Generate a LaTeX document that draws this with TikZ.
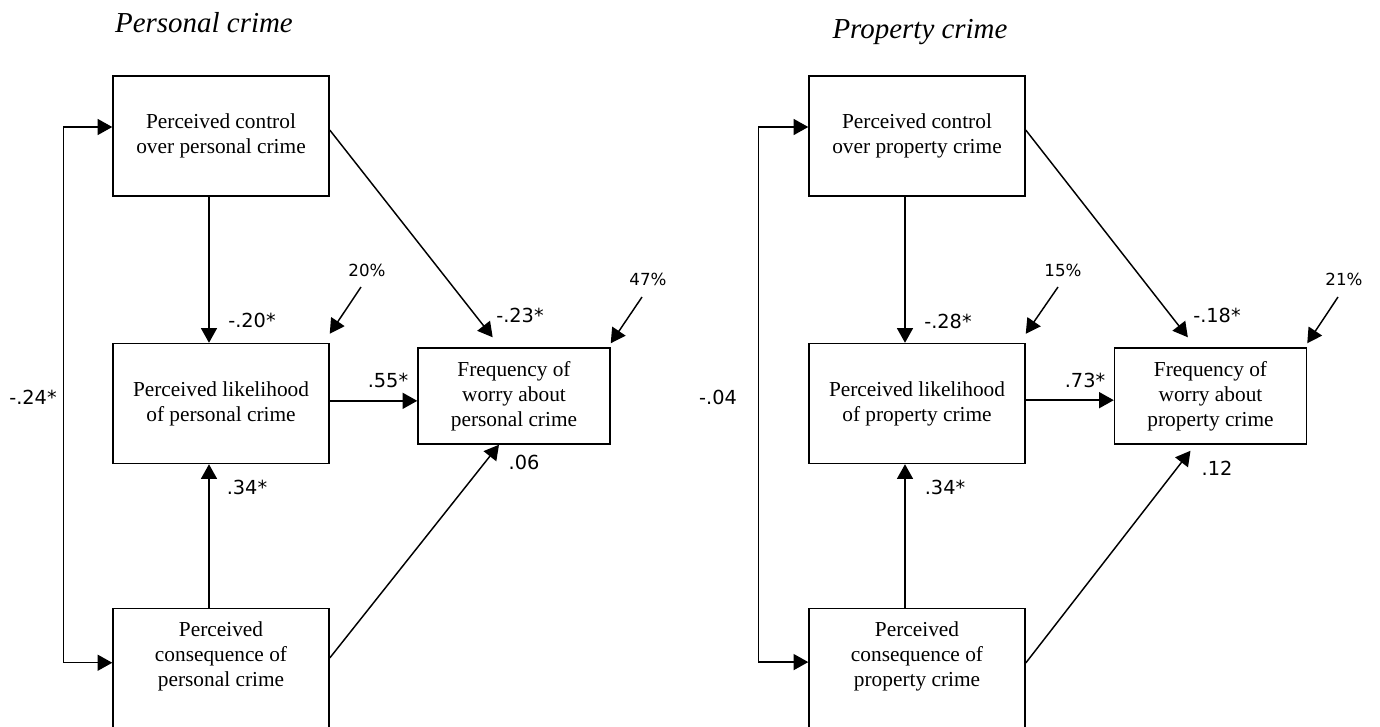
\documentclass[tikz,border=0pt]{standalone}
\usepackage{fontspec}
\setmainfont{Liberation Serif}
\newfontfamily\labfont{DejaVu Sans}
\usetikzlibrary{arrows.meta}
\begin{document}
\begin{tikzpicture}[x=0.75pt,y=-0.75pt,
  box/.style={draw,line width=1.1pt,minimum width=162pt,minimum height=90pt,inner sep=0pt,align=center,font=\fontsize{16}{18.75}\selectfont},
  outbox/.style={box,minimum width=144pt,minimum height=72pt},
  consbox/.style={draw,line width=1.1pt,minimum width=162pt,minimum height=100pt,inner sep=0pt,anchor=north},
  boxtext/.style={align=center,inner sep=0pt,font=\fontsize{16}{18.75}\selectfont},
  coef/.style={inner sep=0pt,font=\labfont\fontsize{14.5}{16}\selectfont},
  pct/.style={inner sep=0pt,font=\labfont\fontsize{12.5}{14}\selectfont},
  ttl/.style={inner sep=0pt,anchor=base,font=\itshape\fontsize{21.7}{26}\selectfont},
  arr/.style={line width=1.1pt,-{Triangle[length=11pt,width=12pt]}},
  arrr/.style={line width=1.1pt,{Triangle[length=11pt,width=12pt]}-{Triangle[length=11pt,width=12pt]}}
]
\useasboundingbox (0,0) rectangle (1380,726);
\clip (0,0) rectangle (1380,726);

% ---------- Left panel ----------
\node[ttl] (t1) at (204,32) {Personal crime};
\node[box] (A1) at (221,136) {Perceived control\\over personal crime};
\node[box] (B1) at (221,403.5) {Perceived likelihood\\of personal crime};
\node[consbox] (C1) at (221,608) {};
\node[boxtext] (C1t) at (221,656) {Perceived\\consequence of\\personal crime};
\node[outbox] (D1) at (514,396) {Frequency of\\worry about\\personal crime};

\node[coef] (l1a) at (33,397) {-.24*};
\node[coef] (l1b) at (252,320) {-.20*};
\node[coef] (l1c) at (388,380) {.55*};
\node[coef] (l1d) at (247,487) {.34*};
\node[coef] (l1e) at (520,315) {-.23*};
\node[coef] (l1f) at (524,462) {.06};
\node[pct] (p1a) at (367,270) {20\%};
\node[pct] (p1b) at (648,279) {47\%};

\draw[arrr] ([yshift=6.75pt]A1.west) -- ++(-49,0) |- ([yshift=9.5pt]C1.west);
\draw[arr] ([xshift=-9pt]A1.south) -- ([xshift=-9pt]B1.north);
\draw[arr] ([xshift=-9pt]C1.north) -- ([xshift=-9pt]B1.south);
\draw[arr] ([yshift=2pt]B1.east) coordinate (b1) -- (b1 -| D1.west);
\draw[arr] ([yshift=4.5pt]A1.east) -- ([xshift=-16pt,yshift=7.5pt]D1.north);
\draw[arr] ([yshift=-37.5pt]C1.north east) -- ([xshift=-11.25pt]D1.south);
\draw[arr] ([xshift=-4.5pt,yshift=-12.75pt]p1a.center) -- ([yshift=6.75pt]B1.north east);
\draw[arr] ([xshift=-4.5pt,yshift=-13.5pt]p1b.center) -- ([yshift=3pt]D1.north east);

% ---------- Right panel ----------
\node[ttl] (t2) at (920,38) {Property crime};
\node[box] (A2) at (917,136) {Perceived control\\over property crime};
\node[box] (B2) at (917,403.5) {Perceived likelihood\\of property crime};
\node[consbox] (C2) at (917,608) {};
\node[boxtext] (C2t) at (917,656) {Perceived\\consequence of\\property crime};
\node[outbox] (D2) at (1210.5,396) {Frequency of\\worry about\\property crime};

\node[coef] (l2a) at (718,397) {-.04};
\node[coef] (l2b) at (948,321) {-.28*};
\node[coef] (l2c) at (1085,380) {.73*};
\node[coef] (l2d) at (945,487) {.34*};
\node[coef] (l2e) at (1217,315) {-.18*};
\node[coef] (l2f) at (1217,468) {.12};
\node[pct] (p2a) at (1063,270) {15\%};
\node[pct] (p2b) at (1344,279) {21\%};

\draw[arrr] ([yshift=6.75pt]A2.west) -- ++(-50,0) |- ([yshift=10pt]C2.west);
\draw[arr] ([xshift=-9pt]A2.south) -- ([xshift=-9pt]B2.north);
\draw[arr] ([xshift=-9pt]C2.north) -- ([xshift=-9pt]B2.south);
\draw[arr] ([yshift=2.5pt]B2.east) coordinate (b2) -- (b2 -| D2.west);
\draw[arr] ([yshift=4.5pt]A2.east) -- ([xshift=-17pt,yshift=7.5pt]D2.north);
\draw[arr] ([yshift=-41.25pt]C2.north east) -- ([xshift=-15pt,yshift=-4.5pt]D2.south);
\draw[arr] ([xshift=-3.75pt,yshift=-12.75pt]p2a.center) -- ([yshift=6.75pt]B2.north east);
\draw[arr] ([xshift=-4.5pt,yshift=-13.5pt]p2b.center) -- ([yshift=3pt]D2.north east);
\end{tikzpicture}
\end{document}
